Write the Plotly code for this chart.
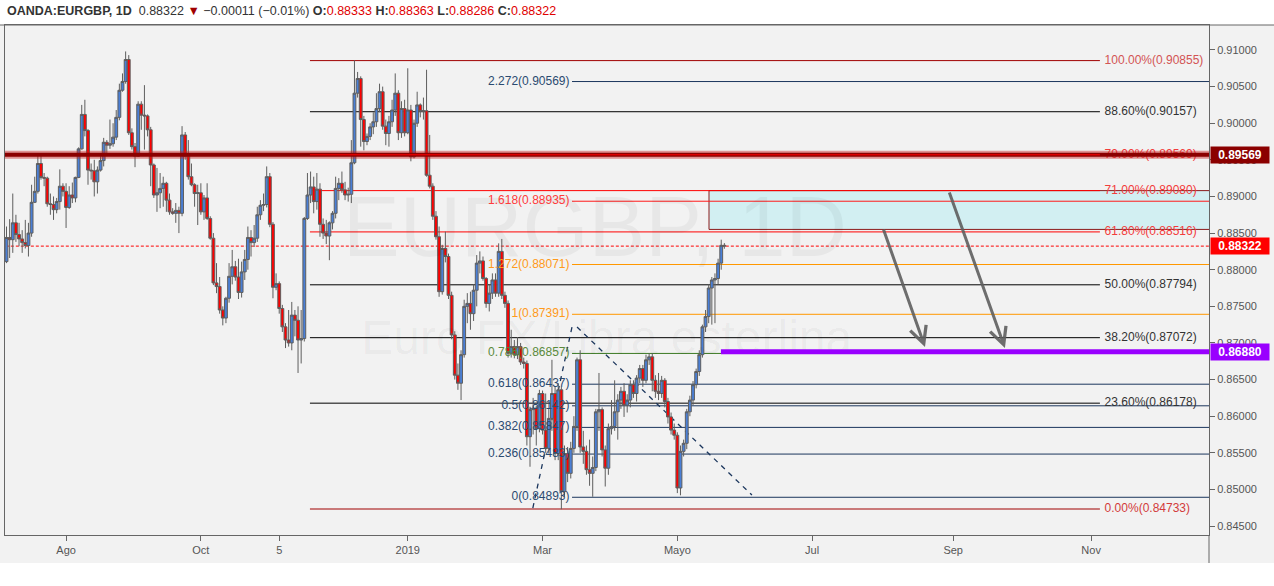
import plotly.graph_objects as go
import pandas as pd

# ---------------- data (daily OANDA:EURGBP) ----------------
start_date = "2018-07-05"

opens = [
    0.8811, 0.8844, 0.8841, 0.8864, 0.8848, 0.8842, 0.8837, 0.8833, 0.8850, 0.8892,
    0.8907, 0.8945, 0.8926, 0.8925, 0.8890, 0.8889, 0.8882, 0.8893, 0.8914, 0.8907,
    0.8885, 0.8902, 0.8898, 0.8926, 0.8965, 0.9012, 0.8990, 0.8936, 0.8935, 0.8920,
    0.8936, 0.8949, 0.8974, 0.8970, 0.8972, 0.8981, 0.9008, 0.9045, 0.9057, 0.9087,
    0.8987, 0.8968, 0.8955, 0.9026, 0.9011, 0.9010, 0.8991, 0.8943, 0.8902, 0.8905,
    0.8911, 0.8918, 0.8895, 0.8879, 0.8877, 0.8881, 0.8877, 0.8984, 0.8955, 0.8927,
    0.8916, 0.8904, 0.8905, 0.8879, 0.8898, 0.8870, 0.8843, 0.8782, 0.8777, 0.8745,
    0.8734, 0.8761, 0.8791, 0.8804, 0.8790, 0.8769, 0.8797, 0.8814, 0.8844, 0.8837,
    0.8843, 0.8875, 0.8888, 0.8889, 0.8927, 0.8862, 0.8776, 0.8781, 0.8747, 0.8722,
    0.8704, 0.8700, 0.8738, 0.8731, 0.8704, 0.8706, 0.8870, 0.8902, 0.8913, 0.8893,
    0.8910, 0.8862, 0.8850, 0.8846, 0.8864, 0.8877, 0.8911, 0.8918, 0.8909, 0.8902,
    0.8903, 0.8946, 0.9041, 0.9061, 0.9005, 0.8975, 0.8982, 0.8995, 0.9002, 0.9020,
    0.9043, 0.8996, 0.8986, 0.9002, 0.9018, 0.9041, 0.8987, 0.9020, 0.8987, 0.9018,
    0.8954, 0.9000, 0.9025, 0.9016, 0.9017, 0.8929, 0.8914, 0.8873, 0.8845, 0.8770,
    0.8829, 0.8818, 0.8765, 0.8711, 0.8656, 0.8645, 0.8684, 0.8750, 0.8754, 0.8740,
    0.8772, 0.8809, 0.8812, 0.8788, 0.8754, 0.8768, 0.8786, 0.8768, 0.8825, 0.8765,
    0.8754, 0.8686, 0.8695, 0.8684, 0.8695, 0.8674, 0.8672, 0.8572, 0.8609, 0.8611,
    0.8583, 0.8631, 0.8581, 0.8556, 0.8597, 0.8631, 0.8549, 0.8636, 0.8497, 0.8549,
    0.8522, 0.8556, 0.8586, 0.8677, 0.8558, 0.8552, 0.8527, 0.8522, 0.8530, 0.8606,
    0.8609, 0.8554, 0.8529, 0.8583, 0.8586, 0.8606, 0.8622, 0.8634, 0.8615, 0.8622,
    0.8643, 0.8631, 0.8652, 0.8665, 0.8649, 0.8677, 0.8681, 0.8649, 0.8634, 0.8631,
    0.8649, 0.8620, 0.8599, 0.8581, 0.8574, 0.8502, 0.8552, 0.8563, 0.8606, 0.8622,
    0.8643, 0.8661, 0.8684, 0.8722, 0.8736, 0.8775, 0.8786, 0.8788, 0.8809, 0.88333,
]
highs = [
    0.8859, 0.8869, 0.8904, 0.8875, 0.8864, 0.8854, 0.8868, 0.8864, 0.8916, 0.8927,
    0.8957, 0.8959, 0.8932, 0.8927, 0.8904, 0.8900, 0.8898, 0.8937, 0.8918, 0.8918,
    0.8914, 0.8919, 0.8927, 0.8967, 0.9025, 0.9032, 0.8992, 0.8945, 0.8950, 0.8941,
    0.8955, 0.8980, 0.8977, 0.9005, 0.9000, 0.9018, 0.9054, 0.9068, 0.9098, 0.9093,
    0.8993, 0.8973, 0.9030, 0.9030, 0.9052, 0.9012, 0.8995, 0.8945, 0.8939, 0.8932,
    0.8927, 0.8920, 0.8904, 0.8884, 0.8891, 0.8886, 0.8996, 0.8988, 0.8977, 0.8945,
    0.8918, 0.8916, 0.8918, 0.8902, 0.8918, 0.8873, 0.8850, 0.8809, 0.8790, 0.8750,
    0.8763, 0.8809, 0.8827, 0.8812, 0.8815, 0.8811, 0.8827, 0.8859, 0.8854, 0.8861,
    0.8886, 0.8895, 0.8904, 0.8941, 0.8932, 0.8865, 0.8795, 0.8784, 0.8752, 0.8727,
    0.8745, 0.8756, 0.8745, 0.8750, 0.8745, 0.8872, 0.8932, 0.8934, 0.8927, 0.8932,
    0.8918, 0.8870, 0.8868, 0.8866, 0.8880, 0.8927, 0.8925, 0.8934, 0.8920, 0.8912,
    0.8977, 0.9086, 0.9070, 0.9064, 0.9010, 0.8986, 0.9000, 0.9015, 0.9041, 0.9054,
    0.9050, 0.9005, 0.9010, 0.9032, 0.9068, 0.9045, 0.9030, 0.9032, 0.9075, 0.9025,
    0.9005, 0.9043, 0.9027, 0.9035, 0.9073, 0.8984, 0.8918, 0.8880, 0.8859, 0.8834,
    0.8852, 0.8822, 0.8770, 0.8716, 0.8672, 0.8690, 0.8759, 0.8768, 0.8770, 0.8780,
    0.8820, 0.8825, 0.8818, 0.8790, 0.8780, 0.8795, 0.8795, 0.8836, 0.8842, 0.8770,
    0.8758, 0.8718, 0.8704, 0.8708, 0.8700, 0.8680, 0.8676, 0.8613, 0.8625, 0.8614,
    0.8636, 0.8635, 0.8631, 0.8610, 0.8677, 0.8640, 0.8645, 0.8640, 0.8560, 0.8558,
    0.8565, 0.8600, 0.8680, 0.8690, 0.8580, 0.8560, 0.8568, 0.8545, 0.8610, 0.8659,
    0.8612, 0.8560, 0.8590, 0.8622, 0.8649, 0.8630, 0.8640, 0.8645, 0.8630, 0.8649,
    0.8649, 0.8656, 0.8670, 0.8670, 0.8684, 0.8686, 0.8686, 0.8656, 0.8659, 0.8655,
    0.8652, 0.8625, 0.8605, 0.8590, 0.8578, 0.8560, 0.8568, 0.8610, 0.8628, 0.8648,
    0.8665, 0.8690, 0.8725, 0.8745, 0.8780, 0.8790, 0.8795, 0.8815, 0.8841, 0.88363,
]
lows = [
    0.8809, 0.8816, 0.8823, 0.8838, 0.8832, 0.8823, 0.8829, 0.8818, 0.8845, 0.8891,
    0.8904, 0.8923, 0.8914, 0.8886, 0.8875, 0.8868, 0.8877, 0.8882, 0.8900, 0.8857,
    0.8883, 0.8891, 0.8892, 0.8925, 0.8964, 0.8982, 0.8916, 0.8923, 0.8900, 0.8904,
    0.8934, 0.8941, 0.8955, 0.8965, 0.8968, 0.8977, 0.9004, 0.9043, 0.9054, 0.8984,
    0.8964, 0.8940, 0.8954, 0.8991, 0.8964, 0.8982, 0.8914, 0.8898, 0.8879, 0.8884,
    0.8886, 0.8879, 0.8875, 0.8875, 0.8864, 0.8850, 0.8873, 0.8950, 0.8923, 0.8914,
    0.8886, 0.8861, 0.8875, 0.8868, 0.8868, 0.8841, 0.8779, 0.8768, 0.8740, 0.8724,
    0.8727, 0.8755, 0.8780, 0.8785, 0.8760, 0.8762, 0.8786, 0.8800, 0.8818, 0.8831,
    0.8838, 0.8868, 0.8880, 0.8885, 0.8858, 0.8761, 0.8772, 0.8740, 0.8715, 0.8693,
    0.8695, 0.8690, 0.8709, 0.8659, 0.8672, 0.8702, 0.8868, 0.8891, 0.8877, 0.8882,
    0.8845, 0.8842, 0.8835, 0.8813, 0.8855, 0.8870, 0.8895, 0.8905, 0.8895, 0.8893,
    0.8891, 0.8944, 0.9035, 0.8968, 0.8963, 0.8970, 0.8977, 0.8985, 0.8995, 0.9015,
    0.8991, 0.8970, 0.8968, 0.8995, 0.9010, 0.8977, 0.8980, 0.8982, 0.8985, 0.8948,
    0.8952, 0.8995, 0.9008, 0.9005, 0.8927, 0.8911, 0.8868, 0.8841, 0.8763, 0.8766,
    0.8810, 0.8760, 0.8705, 0.8650, 0.8636, 0.8622, 0.8680, 0.8727, 0.8718, 0.8730,
    0.8750, 0.8795, 0.8785, 0.8748, 0.8743, 0.8760, 0.8763, 0.8763, 0.8760, 0.8748,
    0.8680, 0.8680, 0.8679, 0.8678, 0.8670, 0.8665, 0.8560, 0.8531, 0.8575, 0.8560,
    0.8578, 0.8575, 0.8550, 0.8549, 0.8580, 0.8540, 0.8540, 0.8473, 0.8490, 0.8510,
    0.8515, 0.8550, 0.8580, 0.8550, 0.8535, 0.8520, 0.8505, 0.8490, 0.8525, 0.8580,
    0.8545, 0.8504, 0.8520, 0.8575, 0.8580, 0.8568, 0.8610, 0.8599, 0.8605, 0.8612,
    0.8625, 0.8620, 0.8645, 0.8640, 0.8645, 0.8670, 0.8634, 0.8625, 0.8622, 0.8625,
    0.8612, 0.8590, 0.8575, 0.8568, 0.8495, 0.8492, 0.8545, 0.8555, 0.8600, 0.8615,
    0.8638, 0.8655, 0.8680, 0.8715, 0.8727, 0.8725, 0.8727, 0.8780, 0.8800, 0.88286,
]
closes = [
    0.8844, 0.8841, 0.8864, 0.8848, 0.8842, 0.8837, 0.8833, 0.8850, 0.8892, 0.8907,
    0.8945, 0.8926, 0.8925, 0.8890, 0.8889, 0.8882, 0.8893, 0.8914, 0.8907, 0.8885,
    0.8902, 0.8898, 0.8926, 0.8965, 0.9012, 0.8990, 0.8936, 0.8935, 0.8920, 0.8936,
    0.8949, 0.8974, 0.8970, 0.8972, 0.8981, 0.9008, 0.9045, 0.9057, 0.9087, 0.8987,
    0.8968, 0.8955, 0.9026, 0.9011, 0.9010, 0.8991, 0.8943, 0.8902, 0.8905, 0.8911,
    0.8918, 0.8895, 0.8879, 0.8877, 0.8881, 0.8877, 0.8984, 0.8955, 0.8927, 0.8916,
    0.8904, 0.8905, 0.8879, 0.8898, 0.8870, 0.8843, 0.8782, 0.8777, 0.8745, 0.8734,
    0.8761, 0.8791, 0.8804, 0.8790, 0.8769, 0.8797, 0.8814, 0.8844, 0.8837, 0.8843,
    0.8875, 0.8888, 0.8889, 0.8927, 0.8862, 0.8776, 0.8781, 0.8747, 0.8722, 0.8704,
    0.8700, 0.8738, 0.8731, 0.8704, 0.8706, 0.8870, 0.8902, 0.8913, 0.8893, 0.8910,
    0.8862, 0.8850, 0.8846, 0.8864, 0.8877, 0.8911, 0.8918, 0.8909, 0.8902, 0.8903,
    0.8946, 0.9041, 0.9061, 0.9005, 0.8975, 0.8982, 0.8995, 0.9002, 0.9020, 0.9043,
    0.8996, 0.8986, 0.9002, 0.9018, 0.9041, 0.8987, 0.9020, 0.8987, 0.9018, 0.8954,
    0.9000, 0.9025, 0.9016, 0.9017, 0.8929, 0.8914, 0.8873, 0.8845, 0.8770, 0.8829,
    0.8818, 0.8765, 0.8711, 0.8656, 0.8645, 0.8684, 0.8750, 0.8754, 0.8740, 0.8772,
    0.8809, 0.8812, 0.8788, 0.8754, 0.8768, 0.8786, 0.8768, 0.8825, 0.8765, 0.8754,
    0.8686, 0.8695, 0.8684, 0.8695, 0.8674, 0.8672, 0.8572, 0.8609, 0.8611, 0.8583,
    0.8631, 0.8581, 0.8556, 0.8597, 0.8631, 0.8549, 0.8636, 0.8497, 0.8549, 0.8522,
    0.8556, 0.8586, 0.8677, 0.8558, 0.8552, 0.8527, 0.8522, 0.8530, 0.8606, 0.8609,
    0.8554, 0.8529, 0.8583, 0.8586, 0.8606, 0.8622, 0.8634, 0.8615, 0.8622, 0.8643,
    0.8631, 0.8652, 0.8665, 0.8649, 0.8677, 0.8681, 0.8649, 0.8634, 0.8631, 0.8649,
    0.8620, 0.8599, 0.8581, 0.8574, 0.8502, 0.8552, 0.8563, 0.8606, 0.8622, 0.8643,
    0.8661, 0.8684, 0.8722, 0.8736, 0.8775, 0.8786, 0.8788, 0.8809, 0.88333, 0.88322,
]
assert len(opens) == len(highs) == len(lows) == len(closes)

tick_dates = ["2018-08-01", "2018-10-01", "2018-11-05", "2019-01-01", "2019-03-01",
              "2019-05-01", "2019-07-01", "2019-09-02", "2019-11-01"]
tick_text = ["Ago", "Oct", "5", "2019", "Mar", "Mayo", "Jul", "Sep", "Nov"]

# Fibonacci retracement (right-hand labels)
fib1_names = ["100.00%", "88.60%", "79.00%", "71.00%", "61.80%", "50.00%", "38.20%", "23.60%", "0.00%"]
fib1_levels = [0.90855, 0.90157, 0.89569, 0.89080, 0.88516, 0.87794, 0.87072, 0.86178, 0.84733]
# Trend-based Fibonacci extension (left-hand labels)
fib2_names = ["2.272", "1.618", "1.272", "1", "0.786", "0.618", "0.5", "0.382", "0.236", "0"]
fib2_levels = [0.90569, 0.88935, 0.88071, 0.87391, 0.86857, 0.86437, 0.86142, 0.85847, 0.85483, 0.84893]

resistance_level = 0.89569
support_level = 0.86880
zone_low, zone_high = 0.88550, 0.89080

# ---------------- styles / geometry ----------------
FONT = "Liberation Sans"
fib1_line_colors = ["#a00000", "#000000", "#ff0000", "#ff0000", "#ff0000", "#000000", "#000000", "#000000", "#a00000"]
fib1_text_colors = ["#d35454", "#333333", "#f23c3c", "#f23c3c", "#f23c3c", "#333333", "#333333", "#333333", "#d33b3b"]
fib2_line_colors = ["#1b365d", "#ff1a1a", "#ff9800", "#ff9800", "#3b7a22", "#1b365d", "#1b365d", "#1b365d", "#1b365d", "#1b365d"]
fib2_text_colors = ["#2b4a70", "#ff3b3b", "#ff9a1a", "#ff9a1a", "#5a8a3c", "#2b4a70", "#2b4a70", "#2b4a70", "#2b4a70", "#2b4a70"]

X_RANGE = [-0.48, 383.6]
X_FAR = 420
FIB1_X0, FIB1_X1, FIB1_LABEL_X = 96.8, 348.8, 350.3
FIB2_X0, FIB2_LABEL_X = 180.4, 179.6
ZONE_X0 = 224.1
SUPPORT_X0 = 227.9

dates = pd.bdate_range(start_date, periods=420)
tick_idx = [int(dates.get_loc(pd.Timestamp(d))) for d in tick_dates]
x = list(range(len(closes)))

fig = go.Figure()

# watermark (behind candles)
fig.add_trace(go.Scatter(x=[187.7], y=[0.88474], mode="text", text=["EURGBP, 1D"],
                         textfont=dict(size=85, color="rgba(0,0,0,0.045)", family=FONT),
                         hoverinfo="skip", showlegend=False))
fig.add_trace(go.Scatter(x=[191.5], y=[0.87010], mode="text", text=["Euro FX/Libra esterlina"],
                         textfont=dict(size=48, color="rgba(0,0,0,0.045)", family=FONT),
                         hoverinfo="skip", showlegend=False))

# fib extension labels (behind candles)
fig.add_trace(go.Scatter(x=[FIB2_LABEL_X] * len(fib2_levels), y=fib2_levels, mode="text",
                         text=[f"{n}({v:.5f})" for n, v in zip(fib2_names, fib2_levels)],
                         textposition="middle left",
                         textfont=dict(size=12, color=fib2_text_colors, family=FONT),
                         hoverinfo="skip", showlegend=False))

fig.add_trace(go.Candlestick(
    x=x, open=opens, high=highs, low=lows, close=closes,
    increasing=dict(line=dict(color="#5e5e5e", width=1), fillcolor="#4a7fd6"),
    decreasing=dict(line=dict(color="#5e5e5e", width=1), fillcolor="#ff0000"),
    whiskerwidth=0, hoverinfo="skip", showlegend=False))

# fib retracement labels
fig.add_trace(go.Scatter(x=[FIB1_LABEL_X] * len(fib1_levels), y=fib1_levels, mode="text",
                         text=[f"{n}({v:.5f})" for n, v in zip(fib1_names, fib1_levels)],
                         textposition="middle right",
                         textfont=dict(size=12, color=fib1_text_colors, family=FONT),
                         hoverinfo="skip", showlegend=False))

shapes = []
# page areas
shapes.append(dict(type="rect", xref="paper", yref="paper", x0=-0.01, x1=1.06, y0=1.0, y1=1.06,
                   fillcolor="#ffffff", line=dict(width=0), layer="below"))
shapes.append(dict(type="rect", xref="paper", yref="paper", x0=-0.01, x1=1.06, y0=-0.0549, y1=-0.11,
                   fillcolor="#ffffff", line=dict(width=0), layer="below"))
shapes.append(dict(type="line", xref="paper", yref="paper", x0=1, x1=1, y0=0, y1=-0.0549,
                   line=dict(color="#666666", width=1)))
shapes.append(dict(type="line", xref="paper", yref="paper", x0=-0.01, x1=1.06, y0=1.0, y1=1.0,
                   line=dict(color="#666666", width=1)))

# zone rectangle
shapes.append(dict(type="rect", xref="x", yref="y", x0=ZONE_X0, x1=X_FAR, y0=zone_low, y1=zone_high,
                   fillcolor="rgba(178,235,242,0.5)", line=dict(color="#8b1a1a", width=1), layer="below"))

for v, c in zip(fib1_levels, fib1_line_colors):
    shapes.append(dict(type="line", xref="x", yref="y", x0=FIB1_X0, x1=FIB1_X1, y0=v, y1=v,
                       line=dict(color=c, width=1), layer="below"))
for v, c in zip(fib2_levels, fib2_line_colors):
    shapes.append(dict(type="line", xref="x", yref="y", x0=FIB2_X0, x1=X_FAR, y0=v, y1=v,
                       line=dict(color=c, width=1), layer="below"))

# current price dotted line
shapes.append(dict(type="line", xref="x", yref="y", x0=-5, x1=X_FAR, y0=closes[-1], y1=closes[-1],
                   line=dict(color="#ff0000", width=1, dash="3px,2px"), layer="below"))

# dashed trend lines of the extension tool
shapes.append(dict(type="line", xref="x", yref="y", x0=167.9, y0=0.84746, x1=180.4, y1=0.87218,
                   line=dict(color="#1b365d", width=1.3, dash="5px,5px"), layer="below"))
shapes.append(dict(type="line", xref="x", yref="y", x0=182.0, y0=0.87218, x1=237.8, y1=0.84923,
                   line=dict(color="#1b365d", width=1.3, dash="5px,5px"), layer="below"))

# thick resistance line
shapes.append(dict(type="line", xref="x", yref="y", x0=-5, x1=X_FAR, y0=resistance_level, y1=resistance_level,
                   line=dict(color="rgba(200,30,30,0.45)", width=8), layer="above"))
shapes.append(dict(type="line", xref="x", yref="y", x0=-5, x1=X_FAR, y0=resistance_level, y1=resistance_level,
                   line=dict(color="#8b0000", width=4), layer="above"))
shapes.append(dict(type="line", xref="x", yref="y", x0=FIB1_X0, x1=FIB1_X1, y0=fib1_levels[2], y1=fib1_levels[2],
                   line=dict(color="#ff0000", width=1), layer="above"))
# support line
shapes.append(dict(type="line", xref="x", yref="y", x0=SUPPORT_X0, x1=X_FAR, y0=support_level, y1=support_level,
                   line=dict(color="#9900ff", width=5), layer="above"))

annotations = []
# header
chg = closes[-1] - closes[-2]
pct = chg / closes[-2] * 100
sgn = "−" if chg < 0 else "+"
red = "#e00000"
header = (f"<b>OANDA:EURGBP, 1D</b>  {closes[-1]:.5f} <span style='color:#a00000'>▼</span> "
          f"{sgn}{abs(chg):.5f} ({sgn}{abs(pct):.2f}%) "
          f"<b>O:</b><span style='color:{red}'>{opens[-1]:.5f}</span> "
          f"<b>H:</b><span style='color:{red}'>{highs[-1]:.5f}</span> "
          f"<b>L:</b><span style='color:{red}'>{lows[-1]:.5f}</span> "
          f"<b>C:</b><span style='color:{red}'>{closes[-1]:.5f}</span>")
annotations.append(dict(xref="paper", yref="paper", x=0.0, y=1.027, xanchor="left", yanchor="middle",
                        text=header, showarrow=False, font=dict(size=12.5, color="#333333", family=FONT)))

# arrows
for (x0, y0, x1, y1) in [(279.6, 0.88569, 293.0, 0.86944), (300.6, 0.89075, 318.5, 0.86931)]:
    annotations.append(dict(xref="x", yref="y", axref="x", ayref="y", x=x1, y=y1, ax=x0, ay=y0,
                            text="", showarrow=True, arrowhead=5, arrowsize=1.1, arrowwidth=3,
                            arrowcolor="rgba(95,95,95,0.9)"))

# price boxes on the axis
for v, col in [(resistance_level, "#8b0000"), (closes[-1], "#ff0000"), (support_level, "#9900ff")]:
    annotations.append(dict(xref="paper", yref="y", x=1.0, y=v, xanchor="left", yanchor="middle",
                            xshift=1, text=f"<b>{v:.5f}</b>", showarrow=False, bgcolor=col,
                            width=56, height=14, borderpad=1, align="center",
                            font=dict(size=12, color="#ffffff", family=FONT)))

fig.update_layout(
    width=1274, height=586,
    margin=dict(l=5, r=65, t=25, b=51),
    paper_bgcolor="#f2f2f2", plot_bgcolor="#f2f2f2",
    showlegend=False, boxgap=0.1, boxgroupgap=0,
    shapes=shapes, annotations=annotations,
    xaxis=dict(range=X_RANGE, tickvals=tick_idx, ticktext=tick_text, showgrid=False, zeroline=False,
               showline=True, linecolor="#666666", mirror=True, ticks="outside", ticklen=5,
               tickcolor="#666666", tickfont=dict(size=11, color="#555555", family=FONT),
               rangeslider=dict(visible=False)),
    yaxis=dict(side="right", range=[0.84378, 0.91341], tick0=0.845, dtick=0.005, tickformat=".5f",
               showgrid=False, zeroline=False, showline=True, linecolor="#666666", mirror=True,
               ticks="outside", ticklen=5, tickcolor="#666666",
               tickfont=dict(size=11, color="#555555", family=FONT)),
)

fig.write_html("out.html")
